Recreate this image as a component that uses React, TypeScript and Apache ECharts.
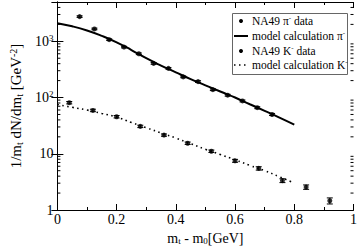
import { useEffect, useRef } from "react";
import * as echarts from "echarts";

const piX = [0.075, 0.125, 0.175, 0.225, 0.275, 0.325, 0.375, 0.425, 0.475, 0.525, 0.575, 0.625, 0.675, 0.725];
const piY = [2750, 1660, 1070, 790, 600, 405, 330, 233, 192, 138, 110, 87, 66, 50];
const piErr = [90, 55, 35, 26, 20, 14, 11, 8, 7, 5, 4, 3.2, 2.6, 2.1];

const kX = [0.04, 0.12, 0.2, 0.28, 0.36, 0.44, 0.52, 0.6, 0.68, 0.76, 0.84, 0.92];
const kY = [81, 59, 45.6, 30.7, 21.5, 15.4, 11.1, 7.5, 5.5, 3.33, 2.56, 1.46];
const kErr = [4, 3, 2.3, 1.5, 1.0, 0.75, 0.55, 0.45, 0.38, 0.26, 0.23, 0.18];

const modelX = [0, 0.05, 0.1, 0.15, 0.2, 0.25, 0.3, 0.35, 0.4, 0.45, 0.5, 0.55, 0.6, 0.65, 0.7, 0.75, 0.8];
const piModel = [2100, 1850, 1560, 1250, 960, 700, 500, 370, 280, 213, 165, 128, 100, 76, 58, 44, 33];
const kModel = [75, 67, 60, 52, 45, 36, 29, 23.5, 19, 15.1, 12, 9.7, 7.8, 6.2, 5, 3.9, 3.0];

const yMinorTicks = [2, 3, 4, 5, 6, 7, 8, 9, 20, 30, 40, 50, 60, 70, 80, 90, 200, 300, 400, 500, 600, 700, 800, 900, 2000, 3000, 4000];

const FONT = "'Liberation Serif', 'DejaVu Serif', serif";

const legendItems = [
  { label: "NA49 π{sup|-} data", kind: "dot" },
  { label: "model calculation π{sup|-}", kind: "solid" },
  { label: "NA49 K{sup|-} data", kind: "dot" },
  { label: "model calculation K{sup|-}", kind: "dotted" },
];

export default function App() {
  const ref = useRef<HTMLDivElement>(null);
  useEffect(() => {
    if (!ref.current) return;
    document.body.style.margin = "0";
    const chart = echarts.init(ref.current, null, { renderer: "svg" });

    const errData = (xs: number[], ys: number[], es: number[]) =>
      xs.map((x, i) => [x, ys[i] - es[i], ys[i] + es[i]]);

    const errRender = (params: any, api: any) => {
      const x = api.value(0);
      const lo = api.coord([x, api.value(1)]);
      const hi = api.coord([x, api.value(2)]);
      const w = 3;
      const st = { stroke: "#000", lineWidth: 1 };
      return {
        type: "group",
        children: [
          { type: "line", shape: { x1: lo[0], y1: lo[1], x2: hi[0], y2: hi[1] }, style: st },
          { type: "line", shape: { x1: lo[0] - w, y1: lo[1], x2: lo[0] + w, y2: lo[1] }, style: st },
          { type: "line", shape: { x1: hi[0] - w, y1: hi[1], x2: hi[0] + w, y2: hi[1] }, style: st },
        ],
      };
    };

    const minorRender = (params: any, api: any) => {
      const v = api.value(0);
      const l = api.coord([0, v]);
      const r = api.coord([1, v]);
      const st = { stroke: "#000", lineWidth: 1 };
      return {
        type: "group",
        children: [
          { type: "line", shape: { x1: l[0], y1: l[1], x2: l[0] + 3, y2: l[1] }, style: st },
          { type: "line", shape: { x1: r[0], y1: r[1], x2: r[0] - 3, y2: r[1] }, style: st },
        ],
      };
    };

    const rowY = [21, 36, 51, 65];
    const legendGraphics: any[] = [
      {
        type: "rect",
        shape: { x: 232.5, y: 13.5, width: 115, height: 61 },
        style: { fill: "#fff", stroke: "#666", lineWidth: 1 },
        z: 100,
      },
    ];
    legendItems.forEach((it, i) => {
      const y = rowY[i];
      if (it.kind === "dot") {
        legendGraphics.push({ type: "circle", shape: { cx: 241, cy: y, r: 2 }, style: { fill: "#000" }, z: 101 });
      } else if (it.kind === "solid") {
        legendGraphics.push({ type: "line", shape: { x1: 234, y1: y, x2: 248, y2: y }, style: { stroke: "#000", lineWidth: 2 }, z: 101 });
      } else {
        legendGraphics.push({ type: "line", shape: { x1: 234, y1: y, x2: 248, y2: y }, style: { stroke: "#000", lineWidth: 1.5, lineDash: [1.5, 3.5] }, z: 101 });
      }
      legendGraphics.push({
        type: "text",
        x: 252,
        y,
        z: 101,
        style: {
          text: it.label,
          fontFamily: FONT,
          fontSize: 11.5,
          fill: "#000",
          verticalAlign: "middle",
          lineHeight: 13,
          rich: { sup: { fontSize: 7, lineHeight: 7, verticalAlign: "top", fontFamily: FONT, fill: "#000" } },
        },
      });
    });

    chart.setOption({
      animation: false,
      grid: { left: 45, right: 5, top: 2, bottom: 31 },
      xAxis: [
        {
          type: "value",
          min: 0,
          max: 1,
          interval: 0.2,
          position: "bottom",
          axisLine: { lineStyle: { color: "#000", width: 1 } },
          axisTick: { inside: true, length: 6, lineStyle: { color: "#000" } },
          minorTick: { show: true, splitNumber: 2, length: 3, lineStyle: { color: "#000" } },
          splitLine: { show: false },
          axisLabel: {
            margin: 2,
            color: "#000",
            fontFamily: FONT,
            fontSize: 14,
            formatter: (v: number) => (v === 0 ? "0" : v === 1 ? "1" : v.toFixed(1)),
          },
          name: "m{sub|t} - m{sub|0}[GeV]",
          nameLocation: "middle",
          nameGap: 21,
          nameTextStyle: {
            color: "#000",
            fontFamily: FONT,
            fontSize: 14,
            lineHeight: 14,
            rich: { sub: { fontSize: 9, lineHeight: 6, verticalAlign: "bottom", fontFamily: FONT, color: "#000" } },
          },
        },
        {
          type: "value",
          min: 0,
          max: 1,
          interval: 0.2,
          position: "top",
          axisLine: { lineStyle: { color: "#000", width: 1 } },
          axisTick: { inside: true, length: 6, lineStyle: { color: "#000" } },
          minorTick: { show: true, splitNumber: 2, length: 3, lineStyle: { color: "#000" } },
          splitLine: { show: false },
          axisLabel: { show: false },
        },
      ],
      yAxis: [
        {
          type: "log",
          logBase: 10,
          min: 1,
          max: 5000,
          position: "left",
          axisLine: { show: true, lineStyle: { color: "#000", width: 1 } },
          axisTick: { show: true, inside: true, length: 6, lineStyle: { color: "#000" } },
          splitLine: { show: false },
          axisLabel: {
            margin: 4,
            color: "#000",
            fontFamily: FONT,
            fontSize: 14,
            lineHeight: 16,
            formatter: (v: number) => {
              const e = Math.round(Math.log10(v));
              if (Math.abs(Math.log10(v) - e) > 1e-6) return "";
              if (e === 0) return "1";
              if (e === 1) return "10";
              return "10{sup|" + e + "}";
            },
            rich: { sup: { fontSize: 9, lineHeight: 9, verticalAlign: "top", fontFamily: FONT, color: "#000" } },
          },
          name: "1/m{sub|t} dN/dm{sub|t} [GeV{sup|-2}]",
          nameLocation: "middle",
          nameRotate: 90,
          nameGap: 25,
          nameTextStyle: {
            color: "#000",
            fontFamily: FONT,
            fontSize: 15,
            lineHeight: 16,
            rich: {
              sub: { fontSize: 10, lineHeight: 7, verticalAlign: "bottom", fontFamily: FONT, color: "#000" },
              sup: { fontSize: 10, lineHeight: 8, verticalAlign: "top", fontFamily: FONT, color: "#000" },
            },
          },
        },
        {
          type: "log",
          logBase: 10,
          min: 1,
          max: 5000,
          position: "right",
          axisLine: { show: true, lineStyle: { color: "#000", width: 1 } },
          axisTick: { show: true, inside: true, length: 6, lineStyle: { color: "#000" } },
          splitLine: { show: false },
          axisLabel: { show: false },
        },
      ],
      series: [
        {
          type: "custom",
          xAxisIndex: 0,
          yAxisIndex: 0,
          renderItem: minorRender,
          data: yMinorTicks.map((v) => [v]),
          encode: { y: 0 },
          silent: true,
          clip: false,
        },
        {
          type: "line",
          data: modelX.map((x, i) => [x, piModel[i]]),
          smooth: true,
          symbol: "none",
          lineStyle: { color: "#000", width: 2 },
        },
        {
          type: "line",
          data: modelX.map((x, i) => [x, kModel[i]]),
          smooth: true,
          symbol: "none",
          lineStyle: { color: "#000", width: 1.6, type: [1.5, 3.5] },
        },
        {
          type: "custom",
          renderItem: errRender,
          data: errData(piX, piY, piErr),
          encode: { x: 0, y: [1, 2] },
        },
        {
          type: "custom",
          renderItem: errRender,
          data: errData(kX, kY, kErr),
          encode: { x: 0, y: [1, 2] },
        },
        {
          type: "scatter",
          data: piX.map((x, i) => [x, piY[i]]),
          symbol: "circle",
          symbolSize: 5,
          itemStyle: { color: "#000" },
        },
        {
          type: "scatter",
          data: kX.map((x, i) => [x, kY[i]]),
          symbol: "circle",
          symbolSize: 5,
          itemStyle: { color: "#000" },
        },
      ],
      graphic: legendGraphics,
    });
    return () => chart.dispose();
  }, []);
  return <div ref={ref} style={{ width: 360, height: 250 }} />;
}
